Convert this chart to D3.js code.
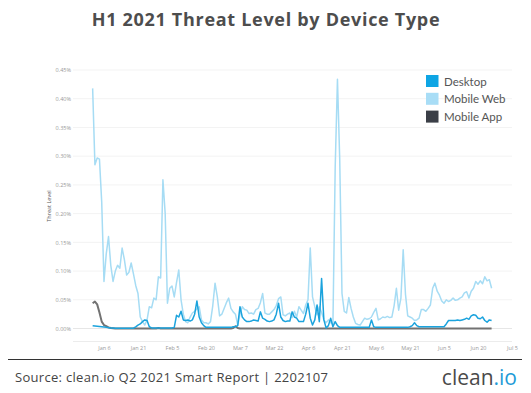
<!DOCTYPE html>
<html>
<head>
<meta charset="utf-8">
<script src="https://cdn.jsdelivr.net/npm/d3@7"></script>
<style>
  body { margin: 0; background: #fff; }
  svg { display: block; }
</style>
</head>
<body>
<svg id="chart" width="531" height="393"></svg>
<script>
// daily values, Jan 1 2021 onward, in hundredths of a percent
var startDay = "2021-01-01";

var desktop = [
  0.5,0.45,0.4,0.35,0.3,0.25,0.2,0.15,0.1,0.1,
  0.05,0.05,0.05,0.05,0.05,0.05,0.05,0.05,0.05,0.3,
  0.6,0.8,1.2,1.5,1.4,0.3,0.1,0.1,0.1,0.1,
  0.1,0.1,0.1,0.1,0.1,0.1,0.2,2.3,2,3,
  1.5,1.4,1.5,1.3,1.5,2.5,4.8,2,1,0.5,
  0.2,0.2,0.2,0.2,0.2,0.2,0.2,0.2,0.2,0.2,
  0.2,0.2,0.3,0.3,0.5,3.8,2,1.5,1.2,1.2,
  1.3,1.5,1.4,1.3,2.9,1.8,1.6,1.3,1.2,1.3,
  1.5,2.5,4.4,2,1.4,1.2,1.3,1.3,2.9,2,
  1.8,1.2,1.2,1.2,2.5,4.4,1.8,0.6,1.5,4.1,
  1.2,8.7,1.5,0.1,0.5,1.8,0.3,1.2,0.5,0.2,
  0.2,0.2,0.2,0.2,0.2,0.2,0.2,0.2,0.2,0.2,
  0.2,0.2,0.2,1.5,0.3,0.2,0.2,0.2,0.2,0.2,
  0.2,0.2,0.2,0.2,0.2,0.2,0.2,0.2,0.2,0.2,
  0.3,0.5,1,0.5,0.3,0.3,0.3,0.3,0.3,0.3,
  0.3,0.3,0.3,0.3,0.3,0.3,0.8,1.4,1.4,1.4,
  1.4,1.5,1.4,1.5,1.6,1.8,1.6,2.2,2.4,2.3,
  1.8,1.7,2,1.4,1.1,1.5,1.4
];

var mobileWeb = [
  41.8,28.5,29.7,29.5,22,8.2,13,16,11,8.2,
  10,11,10.5,14,12,9.3,9.8,11.4,9.5,7.5,
  6.1,2,1.2,0.6,1.5,3.8,3.6,5.3,5,9,
  8.8,25.9,20,4.4,7,7.4,5.5,8,10.2,5,
  2.5,1.2,1,2,2.7,3,3.4,3.8,1.5,1,
  1,0.8,1.2,4,7.9,5.5,2.2,2.5,3.5,4.5,
  5.3,3.5,2.9,2.5,0.6,2.5,3.8,3.3,3.2,2.6,
  2.7,2.5,3.3,3.5,4.5,6.1,2.7,2.5,2.5,2.9,
  3.3,4,5.2,5.5,2.4,2.2,2.5,2.7,1.9,3,
  2,3.8,3.2,2.6,4.1,5,14,5.5,3.8,2.4,
  3.8,2.8,1.5,1,1.5,1,0.8,28,43.4,29.4,
  6.1,3,2.7,5.4,3.5,2,0.9,0.7,0.6,1.2,
  1.8,1.6,1.7,2,2.8,3.5,1.5,1.7,2,1.9,
  2.1,1.9,2,4,7,3.2,5.3,13.7,6,2.2,
  2,1.8,1.4,1.5,1.8,3.3,3.3,3,3.5,4.1,
  7,7.9,6.5,5.8,4.8,4.4,5,4.7,4.9,5.3,
  4.9,5,5.3,5.5,6.2,6.4,5.3,6.5,7,8.2,
  7.7,8.3,7.8,9,8.3,8.5,7
];

var mobileApp = [
  4.4,4.7,4.2,2.8,1.2,0.6,0.4,0.2,0.1,0.05,
  0,0,0,0,0,0,0,0,0,0,
  0,0,0,0,0,0,0,0,0,0.1,
  0,0,0,0,0,0,0,0,0,0,
  0,0,0,0,0,0,0,0,0,0,
  0,0,0,0,0,0,0,0,0,0,
  0,0,0.1,0.4,0.1,0,0,0,0,0,
  0,0,0,0,0,0,0,0,0,0,
  0,0,0,0,0,0,0,0,0,0,
  0,0,0,0,0,0,0,0,0,0,
  0,0,0,0,0,0,0,0,0,0,
  0,0,0,0,0,0,0,0,0,0,
  0,0,0,0,0,0,0,0,0,0,
  0,0,0,0,0,0,0,0,0,0,
  0,0,0,0,0,0,0,0,0,0,
  0,0,0,0,0,0,0,0,0,0,
  0,0,0,0,0,0,0,0,0,0,
  0,0,0,0,0,0,0
];

var seriesNames = ["Desktop", "Mobile Web", "Mobile App"];
var yTicks = [0, 5, 10, 15, 20, 25, 30, 35, 40, 45];
var xTicks = ["2021-01-06","2021-01-21","2021-02-05","2021-02-20","2021-03-07","2021-03-22",
              "2021-04-06","2021-04-21","2021-05-06","2021-05-21","2021-06-05","2021-06-20","2021-07-05"];

var parse = d3.utcParse("%Y-%m-%d");
var day0 = parse(startDay);

var svg = d3.select("#chart");
svg.append("rect").attr("width", 531).attr("height", 393).attr("fill", "#fff");

var x = d3.scaleUtc()
    .domain([d3.utcHour.offset(parse("2020-12-23"), 8), parse("2021-07-05")])
    .range([73, 512]);
var y = d3.scaleLinear().domain([-2.26, 45]).range([341.5, 70]);

// title
svg.append("text")
    .attr("x", 266).attr("y", 26)
    .attr("text-anchor", "middle")
    .style("font", "700 18px 'Open Sans'")
    .style("letter-spacing", "0.7px")
    .attr("fill", "#4d4d4d")
    .text("H1 2021 Threat Level by Device Type");

// grid
svg.append("g")
    .selectAll("line")
    .data(yTicks)
    .enter().append("line")
    .attr("x1", 73).attr("x2", 512)
    .attr("y1", function(d){ return y(d); })
    .attr("y2", function(d){ return y(d); })
    .attr("stroke", function(d){ return d == 0 ? "#e6e6e6" : "#f3f3f3"; })
    .attr("stroke-width", 1);

svg.append("line")
    .attr("x1", 73).attr("x2", 512)
    .attr("y1", 341.5).attr("y2", 341.5)
    .attr("stroke", "#ececec");

// axes
var yAxis = svg.append("g")
    .attr("transform", "translate(73,0)")
    .call(d3.axisLeft(y).tickValues(yTicks).tickSize(0).tickPadding(2)
        .tickFormat(function(d){ return (d / 100).toFixed(2) + "%"; }));
yAxis.select(".domain").remove();
yAxis.selectAll("text").style("font", "5.5px 'Open Sans'").attr("fill", "#999");

var xAxis = svg.append("g")
    .attr("transform", "translate(0,341.5)")
    .call(d3.axisBottom(x).tickValues(xTicks.map(parse)).tickSize(0).tickPadding(5)
        .tickFormat(d3.utcFormat("%b %-d")));
xAxis.select(".domain").remove();
xAxis.selectAll("text").style("font", "5.5px 'Open Sans'").attr("fill", "#999");

svg.append("text")
    .attr("transform", "translate(51,206) rotate(-90)")
    .attr("text-anchor", "middle")
    .style("font", "5.5px 'Open Sans'")
    .attr("fill", "#555")
    .text("Threat Level");

// lines
function lineFor(values){
    return d3.line()
        .x(function(d, i){ return x(d3.utcDay.offset(day0, i)); })
        .y(function(d){ return y(d); })(values);
}

svg.append("path").attr("d", lineFor(mobileWeb))
    .attr("fill", "none").attr("stroke", "#a6dcf4").attr("stroke-width", 1.5)
    .attr("stroke-linejoin", "round");
svg.append("path").attr("d", lineFor(mobileApp))
    .attr("fill", "none").attr("stroke", "#727272").attr("stroke-width", 2)
    .attr("stroke-linejoin", "round");
svg.append("path").attr("d", lineFor(desktop))
    .attr("fill", "none").attr("stroke", "#1ba3dd").attr("stroke-width", 1.5)
    .attr("stroke-linejoin", "round");

// legend
var legendColors = ["#0ea5e4", "#a8ddf6", "#3b3f47"];
var legend = svg.append("g").attr("transform", "translate(426,75)");
var item = legend.selectAll("g")
    .data(seriesNames)
    .enter().append("g")
    .attr("transform", function(d, i){ return "translate(0," + (i * 17.8) + ")"; });
item.append("rect").attr("width", 12.5).attr("height", 12)
    .attr("fill", function(d, i){ return legendColors[i]; });
item.append("text").attr("x", 18).attr("y", 10.5)
    .style("font", "11.5px Lato")
    .attr("fill", "#555")
    .text(function(d){ return d; });

// footer
svg.append("line").attr("x1", 8).attr("x2", 522).attr("y1", 359.5).attr("y2", 359.5)
    .attr("stroke", "#333").attr("stroke-width", 1);

svg.append("text")
    .attr("x", 15).attr("y", 382)
    .style("font", "13px 'Open Sans'")
    .style("letter-spacing", "0.3px")
    .attr("fill", "#444")
    .text("Source: clean.io Q2 2021 Smart Report | 2202107");

var logo = svg.append("text")
    .attr("x", 517).attr("y", 385)
    .attr("text-anchor", "end")
    .style("font", "21px 'Open Sans'");
logo.append("tspan").attr("fill", "#4a4a4a").text("clean");
logo.append("tspan").attr("fill", "#1e9bd7").text(".io");
</script>
</body>
</html>
